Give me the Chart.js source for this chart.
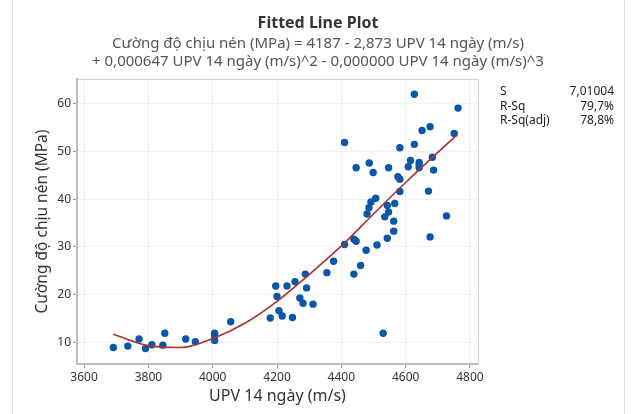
<!DOCTYPE html>
<html>
<head>
<meta charset="utf-8">
<script src="https://cdn.jsdelivr.net/npm/chart.js@4/dist/chart.umd.min.js"></script>
<style>
  html, body { margin: 0; padding: 0; background: #fff; }
  canvas { display: block; }
</style>
</head>
<body>
<canvas id="chart" width="637" height="414"></canvas>
<script>
// measured points: UPV 14 ngay (m/s) vs compressive strength (MPa)
const upv = [3691, 3736, 3771, 3791, 3811, 3845, 3851, 3916, 3946, 4006, 4006, 4006, 4056,
  4179, 4196, 4200, 4206, 4216, 4231, 4248, 4256, 4271, 4281, 4288, 4292, 4312, 4355, 4376,
  4410, 4439, 4446, 4439, 4460, 4477, 4511, 4543, 4563, 4563, 4530, 4676,
  4410, 4446, 4487, 4499, 4507, 4492, 4486, 4480, 4547, 4543, 4547, 4535, 4566, 4576, 4582,
  4582, 4582, 4608, 4615, 4627, 4627, 4642, 4642, 4642, 4651, 4676, 4683, 4687, 4671, 4727,
  4751, 4763]
const strength = [8.9, 9.2, 10.7, 8.7, 9.5, 9.4, 11.9, 10.7, 10.1, 11.9, 11.3, 10.4, 14.3,
  15.1, 21.8, 19.6, 16.6, 15.5, 21.8, 15.2, 22.7, 19.3, 18.2, 24.3, 21.4, 18.0, 24.6, 27.0,
  30.5, 31.6, 31.2, 24.3, 26.1, 29.3, 30.4, 31.8, 33.3, 35.4, 11.9, 32.1,
  51.9, 46.6, 47.6, 45.6, 40.2, 39.4, 38.2, 36.9, 46.6, 38.7, 37.3, 36.3, 39.1, 44.7, 44.2,
  50.8, 41.6, 46.8, 48.1, 62.0, 51.5, 47.7, 47.2, 46.6, 54.4, 55.2, 48.8, 46.1, 41.7, 36.5,
  53.8, 59.1]

// fitted curve
const fitX = [3691, 3800, 3900, 4000, 4100, 4200, 4300, 4400, 4500, 4600, 4700, 4760]
const fitY = [11.7, 9.3, 8.9, 10.8, 14.0, 18.6, 24.2, 30.2, 36.9, 43.5, 49.8, 53.5]

const xTicks = [3600, 3800, 4000, 4200, 4400, 4600, 4800]
const yTicks = [10, 20, 30, 40, 50, 60]

const titleText = 'Fitted Line Plot'
const subLines = [
  'Cường độ chịu nén (MPa) = 4187 - 2,873 UPV 14 ngày (m/s)',
  '+ 0,000647 UPV 14 ngày (m/s)^2 - 0,000000 UPV 14 ngày (m/s)^3'
]
const statLabels = ['S', 'R-Sq', 'R-Sq(adj)']
const statValues = ['7,01004', '79,7%', '78,8%']
const xTitle = 'UPV 14 ngày (m/s)'
const yTitle = 'Cường độ chịu nén (MPa)'

const FONT = '"Noto Sans", "Open Sans", sans-serif'

const decor = {
  id: 'decor',
  beforeDraw(chart) {
    const c = chart.ctx
    c.save()
    c.fillStyle = '#fff'
    c.fillRect(0, 0, chart.width, chart.height)
    // figure border
    c.strokeStyle = '#dcdcdc'
    c.lineWidth = 1
    c.beginPath()
    c.moveTo(12.5, 0); c.lineTo(12.5, chart.height)
    c.moveTo(624.5, 0); c.lineTo(624.5, chart.height)
    c.stroke()
    c.restore()
  },
  afterDraw(chart) {
    const c = chart.ctx, a = chart.chartArea
    c.save()
    // light frame top / right
    c.strokeStyle = '#d4d4d4'
    c.lineWidth = 1
    c.beginPath()
    c.moveTo(a.left, a.top + 0.5); c.lineTo(a.right + 0.5, a.top + 0.5); c.lineTo(a.right + 0.5, a.bottom)
    c.stroke()

    c.textAlign = 'center'
    c.textBaseline = 'middle'
    c.fillStyle = '#333'
    c.font = 'bold 16px ' + FONT
    c.fillText(titleText, 318, 23)
    c.fillStyle = '#555'
    c.font = '15px ' + FONT
    c.fillText(subLines[0], 318, 44)
    c.fillText(subLines[1], 318, 62)

    // axis titles
    c.fillStyle = '#333'
    c.font = '16px ' + FONT
    c.fillText(xTitle, (a.left + a.right) / 2, 396)
    c.save()
    c.translate(43, (a.top + a.bottom) / 2)
    c.rotate(-Math.PI / 2)
    c.font = '15.5px ' + FONT
    c.fillText(yTitle, 0, 0)
    c.restore()

    // stats
    c.font = '12px ' + FONT
    c.fillStyle = '#222'
    statLabels.forEach((s, i) => {
      c.textAlign = 'left'
      c.fillText(s, 500, 92 + i * 14.5)
      c.textAlign = 'right'
      c.fillText(statValues[i], 614, 92 + i * 14.5)
    })
    c.restore()
  }
}

new Chart(document.getElementById('chart'), {
  type: 'scatter',
  data: {
    datasets: [{
      type: 'line',
      data: fitX.map((x, i) => ({ x: x, y: fitY[i] })),
      borderColor: '#a83230',
      borderWidth: 1.6,
      pointRadius: 0,
      cubicInterpolationMode: 'monotone',
      fill: false,
      order: 0
    }, {
      data: upv.map((x, i) => ({ x: x, y: strength[i] })),
      backgroundColor: '#0a56a8',
      borderColor: '#0a56a8',
      borderWidth: 0,
      pointRadius: 3.7,
      order: 1
    }]
  },
  options: {
    responsive: false,
    animation: false,
    devicePixelRatio: 1,
    layout: { padding: { top: 79, right: 159, bottom: 0, left: 0 } },
    plugins: { legend: { display: false }, tooltip: { enabled: false }, title: { display: false } },
    scales: {
      x: {
        type: 'linear',
        min: 3578,
        max: 4825,
        afterBuildTicks: s => { s.ticks = xTicks.map(v => ({ value: v })) },
        afterFit: s => { s.height = 50 },
        ticks: { font: { family: FONT, size: 12 }, color: '#333', padding: 2, maxRotation: 0, callback: v => String(v) },
        grid: { color: '#f0f0f0', tickColor: '#999', tickLength: 4 },
        border: { color: '#bdbdbd', width: 2 }
      },
      y: {
        type: 'linear',
        min: 5.45,
        max: 65.2,
        afterBuildTicks: s => { s.ticks = yTicks.map(v => ({ value: v })) },
        afterFit: s => { s.width = 77 },
        ticks: { font: { family: FONT, size: 12 }, color: '#333', padding: 2, callback: v => String(v) },
        grid: { color: '#f0f0f0', tickColor: '#999', tickLength: 4 },
        border: { color: '#bdbdbd', width: 2 }
      }
    }
  },
  plugins: [decor]
})
</script>
</body>
</html>
